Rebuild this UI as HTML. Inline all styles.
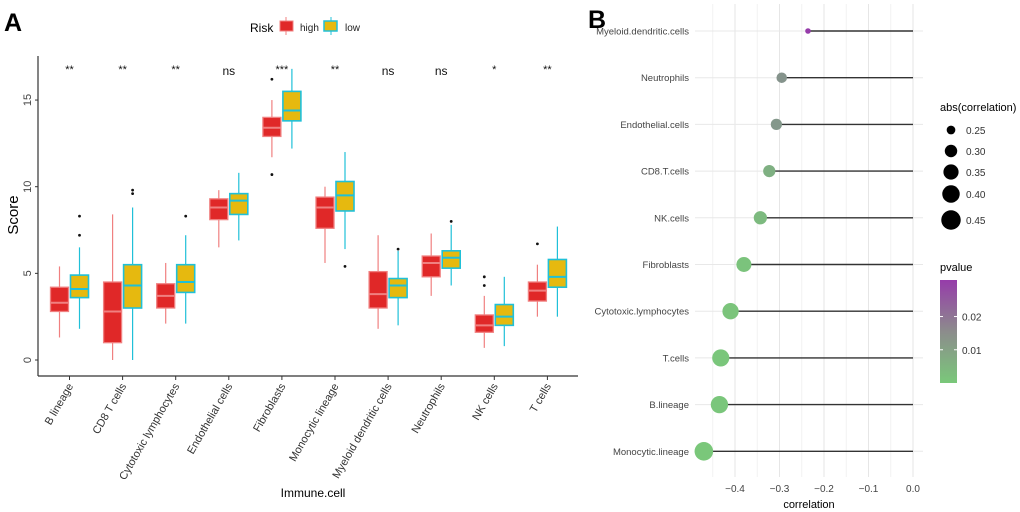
<!DOCTYPE html>
<html><head><meta charset="utf-8"><style>
body{margin:0;background:#fff;}
svg{display:block;font-family:"Liberation Sans",Arial,sans-serif;}
</style></head><body>
<svg id="c" width="1020" height="512" viewBox="0 0 1020 512">
<text x="4" y="31" font-size="25" font-weight="bold">A</text>
<text x="588" y="28" font-size="25" font-weight="bold">B</text>
<g>
<text x="250" y="32" font-size="12">Risk</text>
<g><line x1="286" y1="17" x2="286" y2="35" stroke="#f08080"/><rect x="280" y="21" width="13" height="10" fill="#e02828" stroke="#f08080"/><text x="300" y="31" font-size="10" fill="#222">high</text></g>
<g><line x1="331" y1="17" x2="331" y2="35" stroke="#20c0d8"/><rect x="324" y="21" width="13" height="10" fill="#e6b90f" stroke="#20c0d8" stroke-width="1.5"/><text x="345" y="31" font-size="10" fill="#222">low</text></g>
</g>
<g id="left"></g>
<g id="right"></g>
</svg>
<script>
const cats=["B lineage","CD8 T cells","Cytotoxic lymphocytes","Endothelial cells","Fibroblasts","Monocytic lineage","Myeloid dendritic cells","Neutrophils","NK cells","T cells"];
const sig=["**","**","**","ns","***","**","ns","ns","*","**"];
// [lowWhisker, q1, median, q3, highWhisker]
const highStats=[[1.3,2.8,3.3,4.2,5.4],[0,1.0,2.8,4.5,8.4],[2.1,3.0,3.7,4.4,5.6],[6.5,8.1,8.8,9.3,9.8],[11.7,12.9,13.4,14.0,15.0],[5.6,7.6,8.8,9.4,10.0],[1.8,3.0,3.8,5.1,7.2],[3.7,4.8,5.6,6.0,7.3],[0.7,1.6,2.0,2.6,3.7],[2.5,3.4,4.0,4.5,5.5]];
const lowStats=[[1.8,3.6,4.1,4.9,6.5],[0,3.0,4.3,5.5,8.8],[2.1,3.9,4.5,5.5,7.2],[6.9,8.4,9.2,9.6,10.8],[12.2,13.8,14.4,15.5,16.8],[6.4,8.6,9.5,10.3,12.0],[2.0,3.6,4.3,4.7,6.3],[4.3,5.3,5.9,6.3,7.8],[0.8,2.0,2.5,3.2,4.8],[2.5,4.2,4.8,5.8,7.7]];
const highOut=[[],[],[],[],[16.2,10.7],[],[],[],[4.3,4.8],[6.7]];
const lowOut=[[7.2,8.3],[9.6,9.8],[8.3],[],[],[5.4],[6.4],[8.0],[],[]];
const yTicks=[0,5,10,15];

const corrCells=["Myeloid.dendritic.cells","Neutrophils","Endothelial.cells","CD8.T.cells","NK.cells","Fibroblasts","Cytotoxic.lymphocytes","T.cells","B.lineage","Monocytic.lineage"];
const corrVals=[-0.236,-0.295,-0.307,-0.323,-0.343,-0.380,-0.410,-0.432,-0.435,-0.470];
const pVals=[0.029,0.011,0.010,0.005,0.003,0.001,0.0008,0.0005,0.0005,0.0002];
const xTicks=[-0.4,-0.3,-0.2,-0.1,0.0];
const sizeTicks=[0.25,0.30,0.35,0.40,0.45];
const pTicks=[0.02,0.01];

const NS="http://www.w3.org/2000/svg";
function mk(p,t,a,txt){const e=document.createElementNS(NS,t);for(const k in a)e.setAttribute(k,a[k]);if(txt!==undefined)e.textContent=txt;p.appendChild(e);return e;}

// left panel
const L=document.getElementById('left');
const yS=v=>360-v*17.33;
const xS=i=>69.5+i*53.1;
let ax=mk(L,'line',{x1:38,y1:56,x2:38,y2:376,stroke:'#333','stroke-width':1.2});

ax=mk(L,'line',{x1:38,y1:376,x2:578,y2:376,stroke:'#333','stroke-width':1.2});

yTicks.forEach(t=>{
 mk(L,'line',{x1:35,x2:38,y1:yS(t),y2:yS(t),stroke:'#333'});
 const tx=mk(L,'text',{x:0,y:0,'font-size':11,fill:'#444','text-anchor':'middle',transform:`translate(31,${yS(t)}) rotate(-90)`},t);
 
});
let t=mk(L,'text',{x:0,y:0,'font-size':15,'text-anchor':'middle',transform:'translate(18,215) rotate(-90)'},'Score');

t=mk(L,'text',{x:313,y:497,'font-size':12,'text-anchor':'middle'},'Immune.cell');

function box(s,out,cx,fill,stroke,sw,name){
 const g=mk(L,'g',{});
 
 mk(g,'line',{x1:cx,x2:cx,y1:yS(s[0]),y2:yS(s[4]),stroke:stroke,'stroke-width':1.2});
 mk(g,'rect',{x:cx-9,y:yS(s[3]),width:18,height:yS(s[1])-yS(s[3]),fill:fill,stroke:stroke,'stroke-width':sw});
 mk(g,'line',{x1:cx-9,x2:cx+9,y1:yS(s[2]),y2:yS(s[2]),stroke:stroke,'stroke-width':2});
 out.forEach(o=>mk(g,'circle',{cx:cx,cy:yS(o),r:1.4,fill:'#111'}));
}
cats.forEach((c,i)=>{
 const x=xS(i);
 box(highStats[i],highOut[i],x-10,'#e02828','#f08080',1.3,'box-high-'+i);
 box(lowStats[i],lowOut[i],x+10,'#e6b90f','#20c0d8',1.6,'box-low-'+i);
 mk(L,'line',{x1:x,x2:x,y1:376,y2:380,stroke:'#333'});
 const l=mk(L,'text',{x:0,y:0,'font-size':11,fill:'#333','text-anchor':'end',transform:`translate(${x+4},${386}) rotate(-60)`},c);
 
 const s=mk(L,'text',{x:x,y:sig[i]=='ns'?75:73,'font-size':sig[i]=='ns'?12:11,'text-anchor':'middle',fill:'#111'},sig[i]);
 
});

// right panel
const R=document.getElementById('right');
const cx=v=>913+v*445;
const ry=i=>31+i*46.7;
[-0.45,-0.35,-0.25,-0.15,-0.05].forEach(v=>mk(R,'line',{x1:cx(v),x2:cx(v),y1:4,y2:477,stroke:'#f2f2f2','stroke-width':1}));
xTicks.forEach(v=>{
 mk(R,'line',{x1:cx(v),x2:cx(v),y1:4,y2:477,stroke:'#e6e6e6','stroke-width':1});
 const l=mk(R,'text',{x:cx(v),y:492,'font-size':10,fill:'#444','text-anchor':'middle'},v.toFixed(1).replace('-','\u2212'));
 
});
t=mk(R,'text',{x:809,y:508,'font-size':11,'text-anchor':'middle'},'correlation');

const rS=a=>{const f=Math.max(0,(a-0.236)/(0.47-0.236));return Math.sqrt(2.8*2.8+f*(9.3*9.3-2.8*2.8));};
function pcol(p){const f=Math.min(1,p/0.029);const a=[122,200,122],b=[150,60,170];return `rgb(${a.map((v,k)=>Math.round(v+(b[k]-v)*f)).join(',')})`;}
corrCells.forEach((c,i)=>{
 const y=ry(i);
 mk(R,'line',{x1:695,x2:923,y1:y,y2:y,stroke:'#e8e8e8','stroke-width':1});
 const l=mk(R,'text',{x:689,y:y+3.5,'font-size':9.5,fill:'#444','text-anchor':'end'},c);
 
 const g=mk(R,'g',{});
 
 mk(g,'line',{x1:cx(corrVals[i]),x2:cx(0),y1:y,y2:y,stroke:'#333','stroke-width':1.4});
 mk(g,'circle',{cx:cx(corrVals[i]),cy:y,r:rS(Math.abs(corrVals[i])),fill:pcol(pVals[i])});
});
t=mk(R,'text',{x:940,y:111,'font-size':11},'abs(correlation)');

sizeTicks.forEach((s,k)=>{
 const y=[130,151,172,194,220][k];
 const g=mk(R,'g',{});
 
 mk(g,'circle',{cx:951,cy:y,r:rS(s)+0.8,fill:'#000'});
 mk(g,'text',{x:966,y:y+4,'font-size':10,fill:'#333'},s.toFixed(2));
});
t=mk(R,'text',{x:940,y:271,'font-size':11},'pvalue');

const defs=mk(R,'defs',{});const gr=mk(defs,'linearGradient',{id:'pg',x1:0,y1:0,x2:0,y2:1});
mk(gr,'stop',{offset:0,'stop-color':'rgb(150,60,170)'});mk(gr,'stop',{offset:0.5,'stop-color':'rgb(140,140,140)'});mk(gr,'stop',{offset:1,'stop-color':'rgb(122,200,122)'});
const cb=mk(R,'rect',{x:940,y:280,width:17,height:103,fill:'url(#pg)'});

const pY=p=>383-p/0.031*103;
pTicks.forEach(p=>{
 mk(R,'line',{x1:940,x2:943,y1:pY(p),y2:pY(p),stroke:'#fff'});
 mk(R,'line',{x1:954,x2:957,y1:pY(p),y2:pY(p),stroke:'#fff'});
 const l=mk(R,'text',{x:962,y:pY(p)+4,'font-size':10,fill:'#333'},p.toFixed(2));
 
});
</script>
</body></html>
